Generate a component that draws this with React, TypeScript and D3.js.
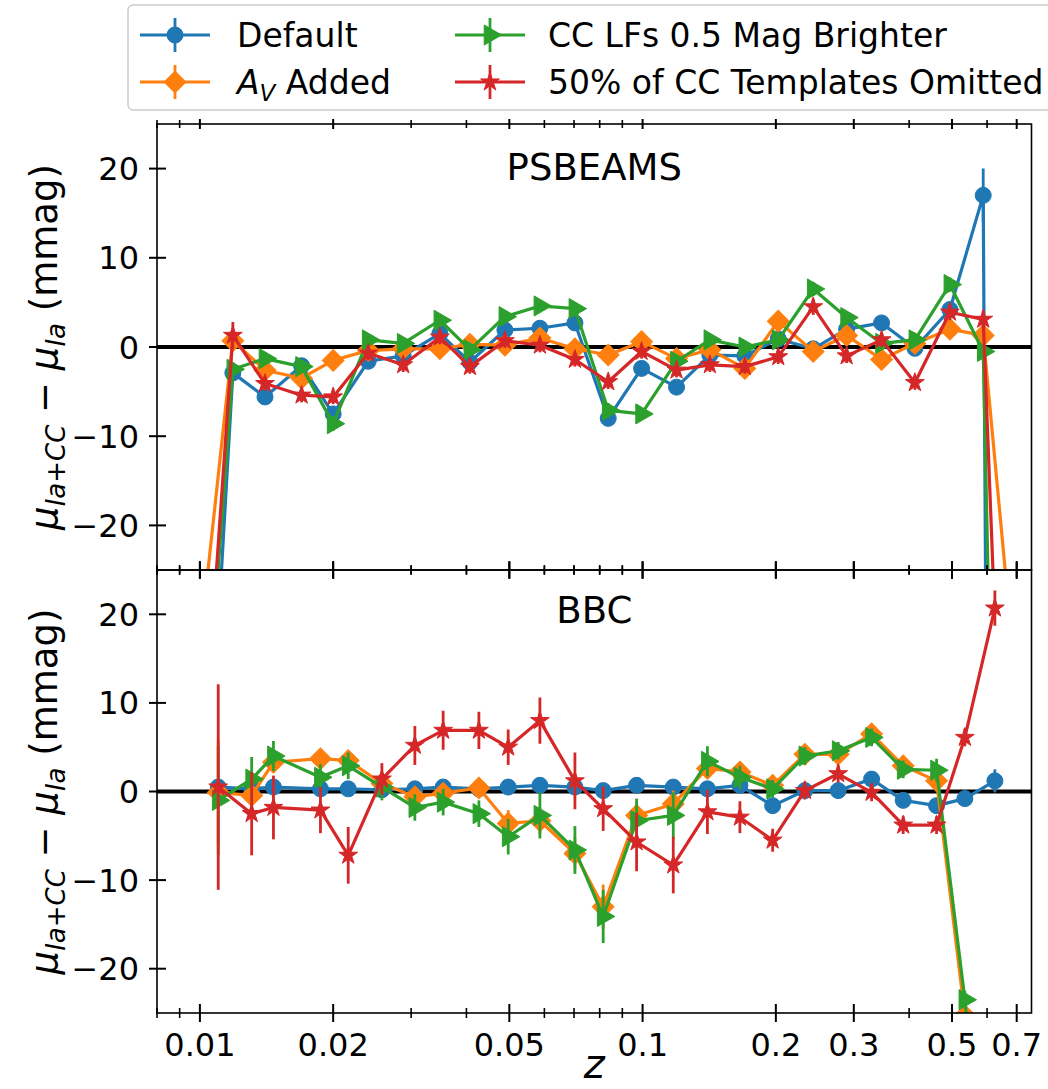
import React from "react";
import * as d3 from "d3";

// ---------- data ----------
const zTop = [0.00992, 0.01187, 0.01403, 0.01697, 0.02, 0.024, 0.02879, 0.03484, 0.04073, 0.04886, 0.05862, 0.07033, 0.08363, 0.09948, 0.1193, 0.1419, 0.1702, 0.2025, 0.2429, 0.289, 0.3466, 0.4122, 0.4945, 0.5881, 0.7006];
const defaultTop = [-70, -2.9, -5.6, -2.1, -7.5, -1.6, -1.0, 1.5, -1.7, 1.9, 2.1, 2.7, -8.0, -2.4, -4.5, -0.9, -1.0, 0.9, -0.2, 2.0, 2.7, -0.15, 4.2, 17.0, -600];
const avTop = [-35, 0.7, -2.6, -3.5, -1.5, -0.4, -0.2, -0.2, 0.3, 0.2, 1.0, -0.2, -0.9, 0.6, -1.3, -0.3, -2.4, 2.9, -0.5, 1.3, -1.4, 0.4, 2.0, 1.3, -39];
const lfTop = [-55, -2.5, -1.3, -2.2, -8.6, 0.8, 0.4, 3.0, -0.3, 3.4, 4.6, 4.3, -7.1, -7.5, -1.6, 0.8, 0.0, 0.8, 6.5, 3.3, 0.4, 0.8, 7.0, -0.5, -176];
const omitTop = [-54, 1.3, -4.1, -5.4, -5.6, -0.7, -2.0, 1.1, -2.2, 0.7, 0.2, -1.4, -3.9, -0.5, -2.6, -2.0, -2.2, -1.1, 4.5, -1.0, 0.8, -4.0, 3.9, 3.1, -94];
const defaultTopErr = [1, 0.6, 0.6, 0.6, 0.6, 0.6, 0.6, 0.6, 0.6, 0.6, 0.6, 0.6, 0.6, 0.6, 0.6, 0.6, 0.6, 0.6, 0.6, 0.6, 0.6, 0.6, 0.8, 3.0, 1];
const avTopErr = [1, 0.6, 0.6, 0.6, 0.6, 0.6, 0.6, 0.6, 0.6, 0.6, 0.6, 0.6, 0.6, 0.6, 0.6, 0.6, 0.6, 0.6, 0.6, 0.6, 0.6, 0.6, 0.6, 0.6, 1];
const lfTopErr = [1, 0.8, 0.6, 0.6, 0.8, 0.6, 0.6, 0.6, 0.6, 0.6, 0.6, 0.6, 0.8, 0.6, 0.6, 0.6, 0.6, 0.6, 0.8, 0.6, 0.6, 0.6, 0.8, 0.8, 1];
const omitTopErr = [1, 1.5, 0.8, 0.8, 0.8, 0.8, 0.8, 0.8, 0.8, 0.8, 0.8, 0.8, 0.8, 0.8, 0.8, 0.8, 0.8, 0.8, 0.9, 0.8, 0.8, 0.8, 0.9, 1.0, 1];

const zBot = [0.011, 0.01309, 0.01466, 0.01872, 0.02163, 0.02577, 0.03059, 0.03544, 0.04268, 0.04971, 0.05862, 0.07033, 0.08147, 0.09693, 0.1173, 0.1401, 0.1659, 0.1967, 0.2326, 0.2766, 0.3291, 0.3879, 0.4614, 0.5346, 0.6249];
const defaultBot = [0.5, 0.3, 0.5, 0.3, 0.3, 0.2, 0.3, 0.5, 0.3, 0.5, 0.7, 0.5, 0.1, 0.7, 0.5, 0.3, 0.7, -1.6, 0.1, 0.1, 1.4, -1.0, -1.6, -0.8, 1.2];
const avBot = [-0.1, -0.45, 3.3, 3.7, 3.5, 0.9, -0.6, -0.2, 0.4, -3.6, -3.3, -7.0, -13.0, -2.7, -1.4, 2.6, 2.2, 0.7, 4.2, 4.2, 6.5, 2.9, 1.2, -25.3, -60];
const lfBot = [-1.0, 1.4, 4.0, 1.6, 2.9, 0.5, -1.8, -1.2, -2.5, -5.1, -2.7, -6.6, -14.1, -3.3, -2.7, 3.4, 1.6, 0.3, 4.0, 4.6, 6.1, 2.5, 2.4, -23.5, -60];
const omitBot = [0.5, -2.5, -1.8, -2.1, -7.2, 1.4, 5.2, 6.9, 6.9, 5.0, 8.0, 1.2, -1.95, -5.7, -8.3, -2.3, -2.9, -5.5, 0.1, 2.0, -0.1, -3.8, -3.8, 6.1, 20.7];
const defaultBotErr = [0.6, 0.6, 0.6, 0.6, 0.6, 0.6, 0.6, 0.6, 0.6, 0.6, 0.6, 0.6, 0.6, 0.6, 0.6, 0.6, 0.6, 0.6, 0.6, 0.6, 0.6, 0.6, 0.6, 0.7, 1.3];
const avBotErr = [6.0, 1.2, 1.2, 1.0, 1.0, 1.0, 1.0, 1.0, 1.0, 1.5, 1.5, 1.8, 2.5, 1.5, 1.5, 1.0, 1.0, 1.0, 1.0, 1.0, 1.0, 1.0, 1.0, 1.0, 1.0];
const lfBotErr = [6.2, 2.5, 1.7, 1.5, 1.5, 1.5, 1.5, 1.5, 1.5, 2.0, 2.6, 2.7, 3.0, 2.5, 2.6, 1.7, 1.3, 1.0, 1.0, 1.0, 1.0, 1.0, 1.3, 1.0, 1.0];
const omitBotErr = [11.6, 4.7, 3.6, 2.6, 3.2, 1.8, 2.2, 2.2, 2.1, 2.0, 2.6, 3.2, 2.5, 3.3, 3.2, 2.5, 1.8, 1.3, 1.0, 1.0, 1.0, 1.0, 1.0, 1.0, 2.0];

const seriesNames = ["Default", "A_V Added", "CC LFs 0.5 Mag Brighter", "50% of CC Templates Omitted"];
const seriesColors = ["#1f77b4", "#ff7f0e", "#2ca02c", "#d62728"];
const seriesMarkers = ["circle", "diamond", "triangle", "star"];

const panelTitles = ["PSBEAMS", "BBC"];
const yTickValues = [-20, -10, 0, 10, 20];
const xMajorTicks = [0.01, 0.02, 0.05, 0.1, 0.2, 0.3, 0.5, 0.7];
const xMajorLabels = ["0.01", "0.02", "0.05", "0.1", "0.2", "0.3", "0.5", "0.7"];
const xMinorTicks = [0.008, 0.009, 0.03, 0.04, 0.06, 0.07, 0.08, 0.09, 0.4, 0.6];

// ---------- layout ----------
const W = 1048;
const H = 1089;
const LEFT = 157;
const RIGHT = 1031.5;
const FONT = "DejaVu Sans, sans-serif";

const x = d3.scaleLog().domain([0.008, 0.756]).range([LEFT, RIGHT]);
const panels = [
  {
    title: panelTitles[0],
    y: d3.scaleLinear().domain([-25, 25]).range([570, 124]),
    z: zTop,
    vals: [defaultTop, avTop, lfTop, omitTop],
    errs: [defaultTopErr, avTopErr, lfTopErr, omitTopErr],
    top: 124,
    bottom: 570,
    titleY: 180,
  },
  {
    title: panelTitles[1],
    y: d3.scaleLinear().domain([-25, 25]).range([1013, 570]),
    z: zBot,
    vals: [defaultBot, avBot, lfBot, omitBot],
    errs: [defaultBotErr, avBotErr, lfBotErr, omitBotErr],
    top: 570,
    bottom: 1013,
    titleY: 623,
  },
];

function markerPath(kind: string): { d: string; rot: number } {
  if (kind === "circle") return { d: d3.symbol(d3.symbolCircle, Math.PI * 8 * 8)() as string, rot: 0 };
  if (kind === "diamond") return { d: d3.symbol(d3.symbolSquare, 235)() as string, rot: 45 };
  if (kind === "triangle") return { d: d3.symbol(d3.symbolTriangle, 175)() as string, rot: 90 };
  return { d: d3.symbol(d3.symbolStar, 110)() as string, rot: 0 };
}

function Marker({ kind, cx, cy, color }: { kind: string; cx: number; cy: number; color: string }) {
  const m = markerPath(kind);
  return <path d={m.d} transform={`translate(${cx},${cy}) rotate(${m.rot})`} fill={color} stroke={color} strokeWidth={1} />;
}

function Panel({ p, idx }: { p: any; idx: number }) {
  const clipId = `clip${idx}`;
  const line = d3
    .line<[number, number]>()
    .x((d) => x(d[0]))
    .y((d) => p.y(d[1]));
  return (
    <g>
      <defs>
        <clipPath id={clipId}>
          <rect x={LEFT} y={p.top} width={RIGHT - LEFT} height={p.bottom - p.top} />
        </clipPath>
      </defs>
      <g clipPath={`url(#${clipId})`}>
        <line x1={LEFT} x2={RIGHT} y1={p.y(0)} y2={p.y(0)} stroke="#000" strokeWidth={4} />
        {p.vals.map((vals: number[], si: number) => {
          const pts: [number, number][] = p.z.map((z: number, i: number) => [z, vals[i]]);
          const color = seriesColors[si];
          return (
            <g key={si}>
              <path d={line(pts) as string} fill="none" stroke={color} strokeWidth={3.2} strokeLinejoin="round" />
              {pts.map((d, i) => (
                <line
                  key={"e" + i}
                  x1={x(d[0])}
                  x2={x(d[0])}
                  y1={p.y(d[1] - p.errs[si][i])}
                  y2={p.y(d[1] + p.errs[si][i])}
                  stroke={color}
                  strokeWidth={2.8}
                />
              ))}
              {pts.map((d, i) => (
                <Marker key={"m" + i} kind={seriesMarkers[si]} cx={x(d[0])} cy={p.y(d[1])} color={color} />
              ))}
            </g>
          );
        })}
      </g>
      {/* frame */}
      <rect x={LEFT} y={p.top} width={RIGHT - LEFT} height={p.bottom - p.top} fill="none" stroke="#000" strokeWidth={1.6} />
      {/* x ticks top and bottom */}
      {xMajorTicks.map((t, i) => (
        <g key={"xt" + i}>
          <line x1={x(t)} x2={x(t)} y1={p.top - (idx === 0 ? 5 : 8)} y2={p.top + (idx === 0 ? 5 : 8)} stroke="#000" strokeWidth={2} />
          <line x1={x(t)} x2={x(t)} y1={p.bottom - 9} y2={p.bottom + 9} stroke="#000" strokeWidth={2} />
        </g>
      ))}
      {xMinorTicks.map((t, i) => (
        <g key={"xm" + i}>
          <line x1={x(t)} x2={x(t)} y1={p.top - 4} y2={p.top + 4} stroke="#000" strokeWidth={1.6} />
          <line x1={x(t)} x2={x(t)} y1={p.bottom - 5} y2={p.bottom + 5} stroke="#000" strokeWidth={1.6} />
        </g>
      ))}
      {/* y ticks */}
      {yTickValues.map((t) => (
        <g key={"yt" + t}>
          <line x1={LEFT - 8} x2={LEFT + 9} y1={p.y(t)} y2={p.y(t)} stroke="#000" strokeWidth={2} />
          <text x={LEFT - 18} y={p.y(t) + 11.5} textAnchor="end" fontSize={32} fontFamily={FONT} fill="#000">
            {t < 0 ? `\u2212${Math.abs(t)}` : `${t}`}
          </text>
        </g>
      ))}
      {/* title */}
      <text x={(LEFT + RIGHT) / 2} y={p.titleY} textAnchor="middle" fontSize={37} fontFamily={FONT} fill="#000">
        {p.title}
      </text>
      {/* y label */}
      <text
        transform={`translate(57,${(p.top + p.bottom) / 2}) rotate(-90)`}
        textAnchor="middle"
        fontSize={37}
        fontFamily={FONT}
        fill="#000"
        style={{ whiteSpace: "pre" }}
      >
        <tspan fontStyle="italic">μ</tspan>
        <tspan fontStyle="italic" fontSize={26} dy={8}>Ia+CC</tspan>
        <tspan dy={-8}>{" \u2212 "}</tspan>
        <tspan fontStyle="italic">μ</tspan>
        <tspan fontStyle="italic" fontSize={26} dy={8}>Ia</tspan>
        <tspan dy={-8}>{" (mmag)"}</tspan>
      </text>
    </g>
  );
}

function LegendEntry({ i, cx, cy, tx }: { i: number; cx: number; cy: number; tx: number }) {
  const color = seriesColors[i];
  const name = seriesNames[i];
  return (
    <g>
      <line x1={cx - 35} x2={cx + 35} y1={cy} y2={cy} stroke={color} strokeWidth={3.2} />
      <line x1={cx} x2={cx} y1={cy - 17} y2={cy + 17} stroke={color} strokeWidth={2.8} />
      <Marker kind={seriesMarkers[i]} cx={cx} cy={cy} color={color} />
      {name === "A_V Added" ? (
        <text x={tx} y={cy + 12} fontSize={33} fontFamily={FONT} fill="#000" style={{ whiteSpace: "pre" }}>
          <tspan fontStyle="italic">A</tspan>
          <tspan fontStyle="italic" fontSize={23} dy={7}>V</tspan>
          <tspan dy={-7}>{" Added"}</tspan>
        </text>
      ) : (
        <text x={tx} y={cy + 12} fontSize={33} fontFamily={FONT} fill="#000">
          {name}
        </text>
      )}
    </g>
  );
}

export default function App() {
  return (
    <svg width={W} height={H} style={{ position: "absolute", left: 0, top: 0, background: "#fff" }}>
      <rect x={0} y={0} width={W} height={H} fill="#fff" />
      {panels.map((p, i) => (
        <Panel key={i} p={p} idx={i} />
      ))}
      {/* x tick labels */}
      {xMajorTicks.map((t, i) => (
        <text key={"xl" + i} x={x(t)} y={1056} textAnchor="middle" fontSize={32} fontFamily={FONT} fill="#000">
          {xMajorLabels[i]}
        </text>
      ))}
      <text x={(LEFT + RIGHT) / 2} y={1078} textAnchor="middle" fontSize={40} fontStyle="italic" fontFamily={FONT} fill="#000">
        z
      </text>
      {/* legend */}
      <rect x={128} y={5} width={940} height={105} rx={5} fill="#fff" fillOpacity={0.85} stroke="#cccccc" strokeWidth={1.5} />
      <LegendEntry i={0} cx={175} cy={35} tx={237} />
      <LegendEntry i={1} cx={175} cy={82} tx={237} />
      <LegendEntry i={2} cx={490} cy={35} tx={548} />
      <LegendEntry i={3} cx={490} cy={82} tx={548} />
    </svg>
  );
}
